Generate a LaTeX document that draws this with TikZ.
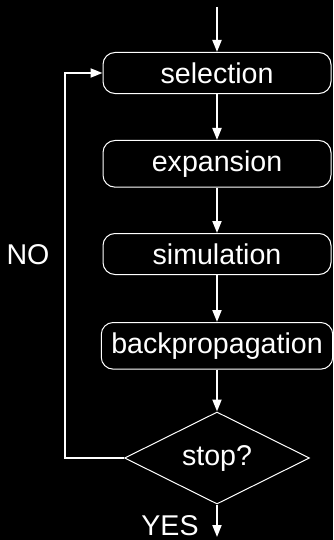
\documentclass[tikz,border=0pt]{standalone}
\usepackage{fontspec}
\setmainfont{Liberation Sans}
\usetikzlibrary{arrows.meta,shapes.geometric}
\begin{document}
\begin{tikzpicture}[x=1pt,y=-1pt,
  every node/.style={text=white,font=\fontsize{28.6}{34}\selectfont},
  stepbox/.style={draw=white,line width=1pt,rounded corners=12pt,minimum width=228pt,inner xsep=10pt,inner ysep=10pt,anchor=north},
  decision/.style={draw=white,line width=1pt,shape=diamond,aspect=2,minimum width=185pt,minimum height=92pt,inner sep=0pt},
  arr/.style={draw=white,line width=1.8pt,-{Triangle[width=9pt,length=12pt]}},
  plainline/.style={draw=white,line width=1.8pt}]
\useasboundingbox (0,0) rectangle (333,540);
\fill[black] (0,0) rectangle (333,540);
\coordinate (start) at (217,7);
\coordinate (finish) at (217,537);
\node[stepbox] (sel) at (217,52) {selection};
\node[stepbox] (exp) at (217,140) {expansion};
\node[stepbox] (sim) at (217,233) {simulation};
\node[stepbox] (bp) at (217,322) {backpropagation};
\node[decision] (stop) at (217,458) {stop?};
\node (no) at (28,255) {NO};
\node[anchor=base] (yes) at (170,535) {YES};
\draw[arr] (start) -- (sel.north);
\draw[arr] (sel.south) -- (exp.north);
\draw[arr] (exp.south) -- (sim.north);
\draw[arr] (sim.south) -- (bp.north);
\draw[arr] (bp.south) -- (stop.north);
\draw[arr] (stop.south) -- (finish);
\draw[arr] (stop.west) -- ++(-59,0) |- (sel.west);
\end{tikzpicture}
\end{document}
